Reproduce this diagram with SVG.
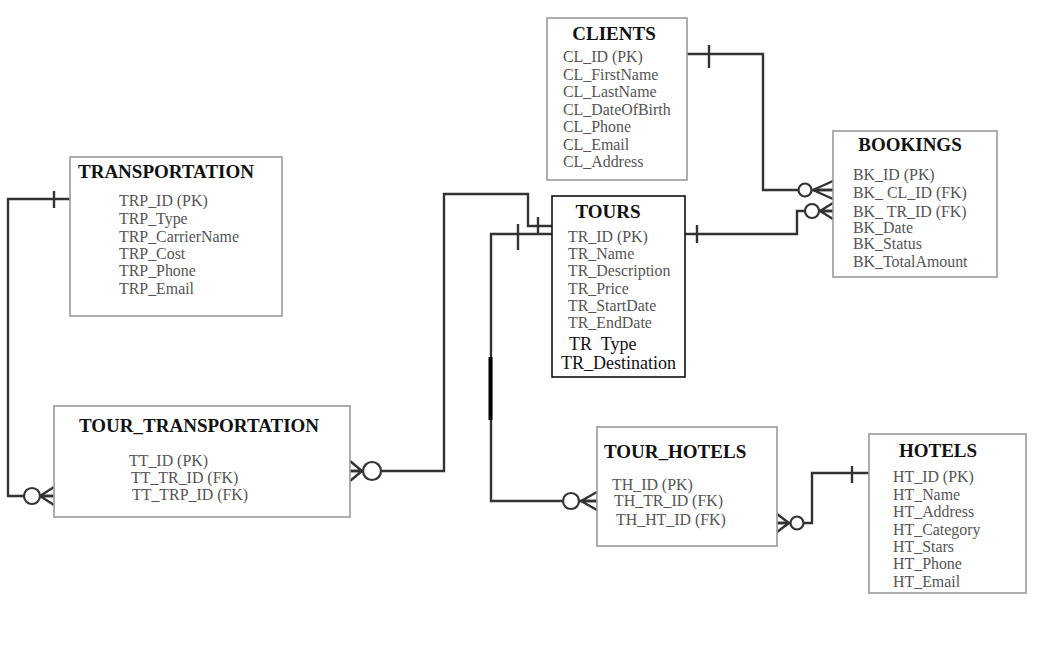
<svg xmlns="http://www.w3.org/2000/svg" width="1053" height="648" viewBox="0 0 1053 648">
<style>
.box{fill:#fff;stroke:#9a9a9a;stroke-width:1.6}
.boxb{fill:#fff;stroke:#111;stroke-width:1.6}
.t{font-family:"Liberation Serif","Times New Roman",serif;font-weight:bold;font-size:19px;fill:#111}
.a{font-family:"Liberation Serif","Times New Roman",serif;font-size:15.9px;fill:#555}
.ab{font-family:"Liberation Serif","Times New Roman",serif;font-size:18px;fill:#111;white-space:pre}
.c{fill:none;stroke:#333;stroke-width:2.4}
.o{fill:#fff;stroke:#333;stroke-width:2.2}
</style>
<rect width="1053" height="648" fill="#fff"/>
<g id="connectors">
  <!-- CLIENTS - BOOKINGS -->
  <polyline class="c" points="687,54 763,54 763,190 833,190"/>
  <line class="c" x1="709" y1="45" x2="709" y2="68"/>
  <path class="c" d="M813,190 L833,181 M813,190 L833,190 M813,190 L833,199"/>
  <circle class="o" cx="805" cy="190" r="6.5"/>
  <!-- TOURS - BOOKINGS -->
  <polyline class="c" points="685,234 797,234 797,211 833,211"/>
  <line class="c" x1="697" y1="225" x2="697" y2="243"/>
  <path class="c" d="M820,211 L833,203 M820,211 L833,211 M820,211 L833,219"/>
  <circle class="o" cx="812" cy="211" r="7"/>
  <!-- TRANSPORTATION - TOUR_TRANSPORTATION -->
  <polyline class="c" points="70,199 8,199 8,496 54,496"/>
  <line class="c" x1="54" y1="191" x2="54" y2="208"/>
  <path class="c" d="M40,496 L54,487 M40,496 L54,496 M40,496 L54,505"/>
  <circle class="o" cx="32" cy="496" r="8"/>
  <!-- TOURS - TOUR_TRANSPORTATION -->
  <polyline class="c" points="350,471 444,471 444,194 528,194 528,226 552,226"/>
  <line class="c" x1="538" y1="217" x2="538" y2="233"/>
  <path class="c" d="M362,471 L350,461 M362,471 L350,471 M362,471 L350,481"/>
  <circle class="o" cx="372" cy="471" r="9"/>
  <!-- TOURS - TOUR_HOTELS -->
  <polyline class="c" points="552,234 491,234 491,501 597,501"/>
  <line x1="490.5" y1="357" x2="490.5" y2="420" stroke="#000" stroke-width="4"/>
  <line class="c" x1="518" y1="224" x2="518" y2="250"/>
  <path class="c" d="M581,501 L597,492 M581,501 L597,501 M581,501 L597,510"/>
  <circle class="o" cx="571" cy="501" r="8"/>
  <!-- HOTELS - TOUR_HOTELS -->
  <polyline class="c" points="869,473 812,473 812,523 777,523"/>
  <line class="c" x1="852" y1="466" x2="852" y2="483"/>
  <path class="c" d="M789,523 L777,514 M789,523 L777,523 M789,523 L777,532"/>
  <circle class="o" cx="797" cy="523" r="6.5"/>
</g>
<g id="clients">
  <rect class="box" x="547" y="18" width="140" height="162"/>
  <text class="t" x="614" y="40" text-anchor="middle">CLIENTS</text>
  <text class="a" x="563" y="62">CL_ID (PK)</text>
  <text class="a" x="563" y="80">CL_FirstName</text>
  <text class="a" x="563" y="97">CL_LastName</text>
  <text class="a" x="563" y="115">CL_DateOfBirth</text>
  <text class="a" x="563" y="132">CL_Phone</text>
  <text class="a" x="563" y="150">CL_Email</text>
  <text class="a" x="563" y="167">CL_Address</text>
</g>
<g id="bookings">
  <rect class="box" x="833" y="131" width="164" height="146"/>
  <text class="t" x="910" y="151" text-anchor="middle">BOOKINGS</text>
  <text class="a" x="853" y="180">BK_ID (PK)</text>
  <text class="a" x="853" y="198">BK_ CL_ID (FK)</text>
  <text class="a" x="853" y="217">BK_ TR_ID (FK)</text>
  <text class="a" x="853" y="233">BK_Date</text>
  <text class="a" x="853" y="249">BK_Status</text>
  <text class="a" x="853" y="267">BK_TotalAmount</text>
</g>
<g id="transportation">
  <rect class="box" x="70" y="157" width="212" height="159"/>
  <text class="t" x="78" y="178">TRANSPORTATION</text>
  <text class="a" x="119" y="206">TRP_ID (PK)</text>
  <text class="a" x="119" y="224">TRP_Type</text>
  <text class="a" x="119" y="242">TRP_CarrierName</text>
  <text class="a" x="119" y="259">TRP_Cost</text>
  <text class="a" x="119" y="276">TRP_Phone</text>
  <text class="a" x="119" y="294">TRP_Email</text>
</g>
<g id="tours">
  <rect class="boxb" x="552" y="196" width="133" height="181"/>
  <text class="t" x="608" y="218" text-anchor="middle">TOURS</text>
  <text class="a" x="568" y="242">TR_ID (PK)</text>
  <text class="a" x="568" y="259">TR_Name</text>
  <text class="a" x="568" y="276">TR_Description</text>
  <text class="a" x="568" y="294">TR_Price</text>
  <text class="a" x="568" y="311">TR_StartDate</text>
  <text class="a" x="568" y="328">TR_EndDate</text>
  <text class="ab" x="569" y="350">TR  Type</text>
  <text class="ab" x="561" y="369">TR_Destination</text>
</g>
<g id="tour_transportation">
  <rect class="box" x="54" y="406" width="296" height="111"/>
  <text class="t" x="79" y="432">TOUR_TRANSPORTATION</text>
  <text class="a" x="129" y="466">TT_ID (PK)</text>
  <text class="a" x="131" y="483">TT_TR_ID (FK)</text>
  <text class="a" x="132" y="500">TT_TRP_ID (FK)</text>
</g>
<g id="tour_hotels">
  <rect class="box" x="597" y="427" width="180" height="119"/>
  <text class="t" x="604" y="458">TOUR_HOTELS</text>
  <text class="a" x="612" y="490">TH_ID (PK)</text>
  <text class="a" x="614" y="506">TH_TR_ID (FK)</text>
  <text class="a" x="616" y="525">TH_HT_ID (FK)</text>
</g>
<g id="hotels">
  <rect class="box" x="869" y="434" width="157" height="159"/>
  <text class="t" x="938" y="457" text-anchor="middle">HOTELS</text>
  <text class="a" x="893" y="482">HT_ID (PK)</text>
  <text class="a" x="893" y="500">HT_Name</text>
  <text class="a" x="893" y="517">HT_Address</text>
  <text class="a" x="893" y="535">HT_Category</text>
  <text class="a" x="893" y="552">HT_Stars</text>
  <text class="a" x="893" y="569">HT_Phone</text>
  <text class="a" x="893" y="587">HT_Email</text>
</g>
</svg>
